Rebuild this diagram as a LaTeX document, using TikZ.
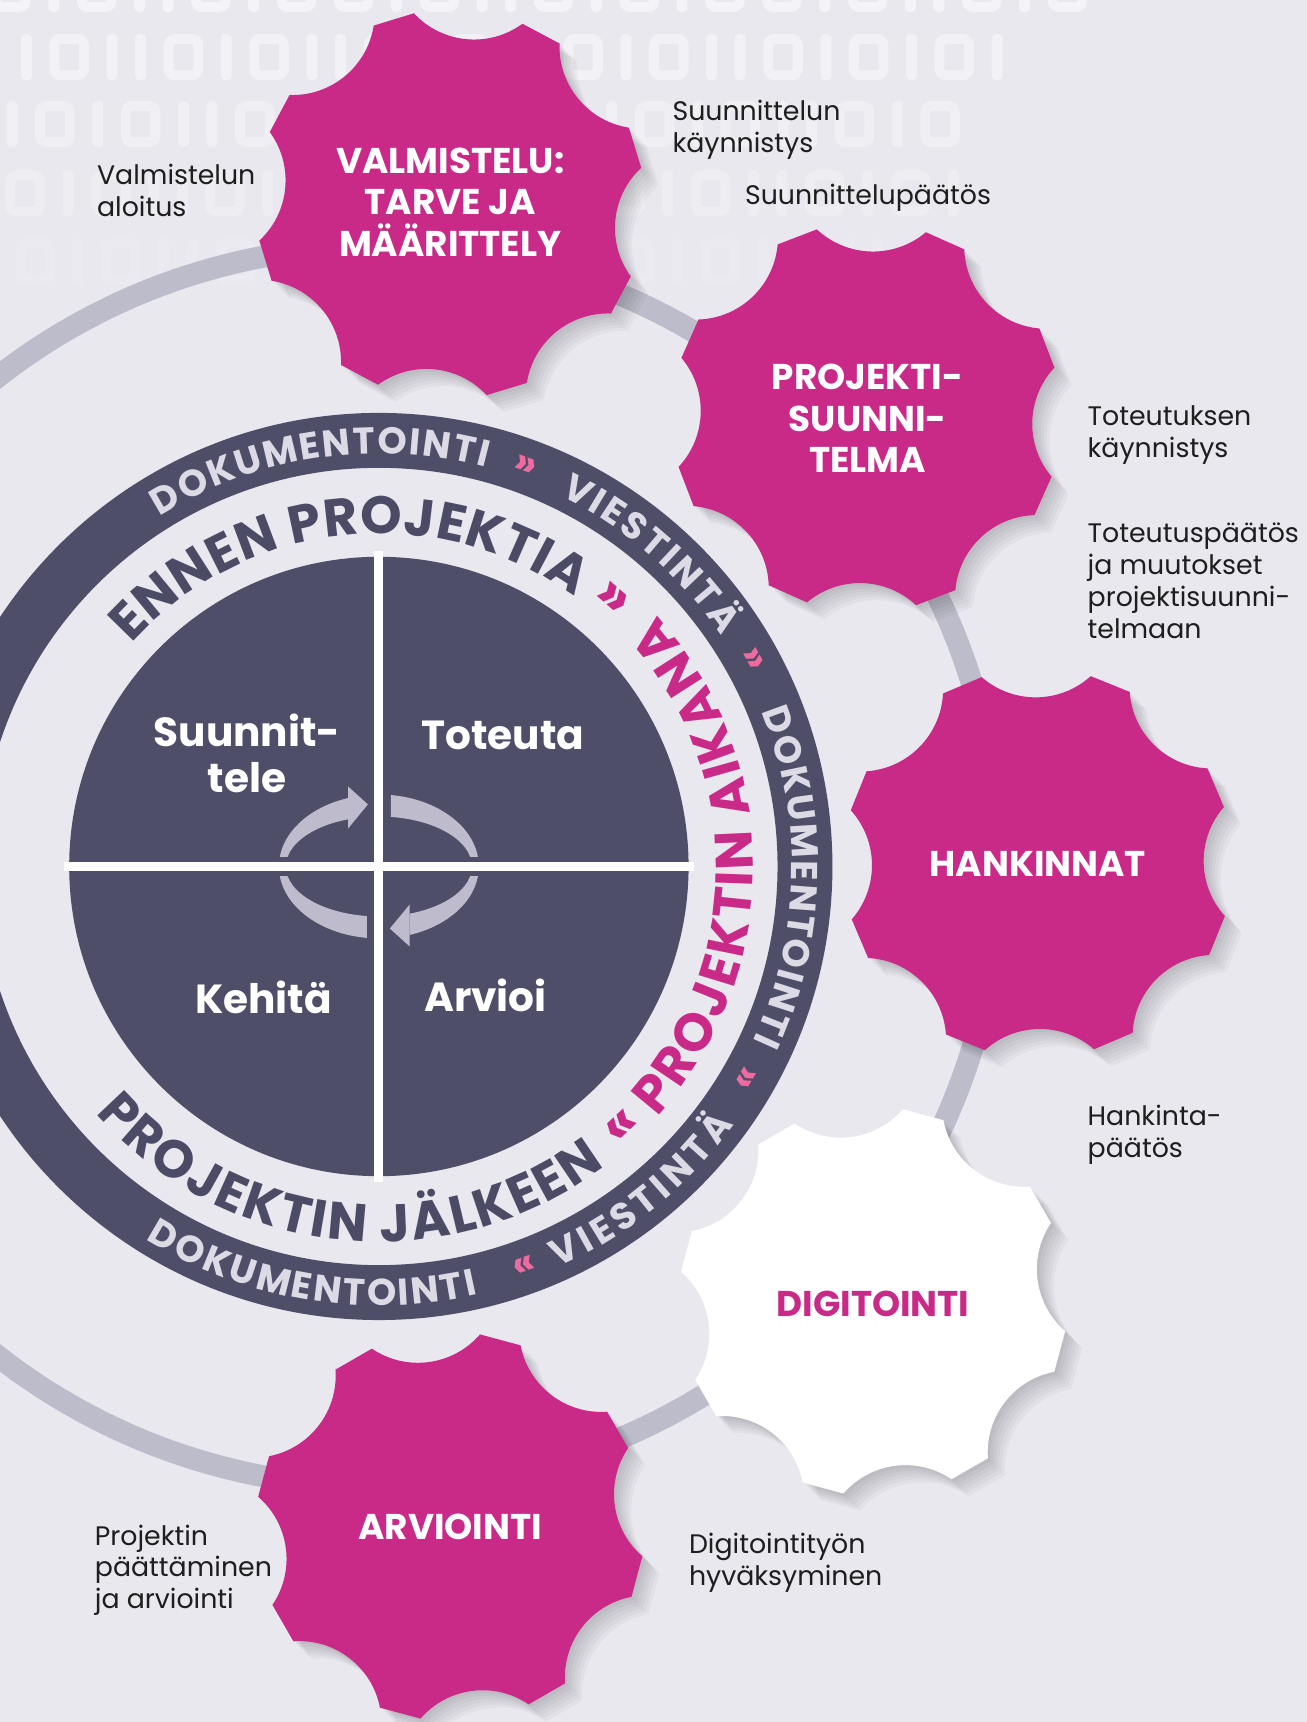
\documentclass[tikz,border=0pt]{standalone}
\usepackage{fontspec}
\setmainfont{Poppins}
\usetikzlibrary{decorations.text}

\definecolor{paper}{HTML}{E9E8EF}
\definecolor{slate}{HTML}{4F4E68}
\definecolor{slatetext}{HTML}{4C4B66}
\definecolor{gearpink}{HTML}{C92A87}
\definecolor{chevpink}{HTML}{EE6BA0}
\definecolor{trackgray}{HTML}{BDBCCB}
\definecolor{arrowgray}{HTML}{BEBCCC}
\definecolor{ringtext}{HTML}{DCDBE5}
\definecolor{notetext}{HTML}{1E1E1E}

\newcommand\ringfmt{\fontsize{17}{17}\selectfont\bfseries\color{ringtext}}
\newcommand\bandfmt{\fontsize{24}{24}\selectfont\bfseries\color{slatetext}}
\newcommand\pinkfmt{\fontsize{24}{24}\selectfont\bfseries\color{gearpink}}

\newcommand\bitsa{0,1,0,1,1,0,1,0,0,1,0,1,1,0,1,0,1,0,0,1,0,1,1,0,1,0}
\newcommand\bitsb{1,0,1,1,0,1,0,1,1,0,1,0,1,1,0,1,0,1,1,0,1,0,1,0,1}
\newcommand\bitsc{1,1,0,1,0,1,1,0,1,0,1,1,0,1,0,1,1,0,1,0,1,1,0,1,0}
\newcommand\bitsd{0,1,0,1,1,0,1,0,1,1,0,1,0,1,1,0,1,0,1,1,0,1,0,1}
\newcommand\bitse{1,0,1,0,1,1,0,1,0,1,1,0,1,0,1,1,0,1,0,1,0,1,1}

\newcommand\gearoutline[1]{({#1-6.2}:177)
  \foreach \k in {0,...,7}{ -- ({#1+45*\k+6.2}:177)
    arc[start angle={#1+45*\k+244.1}, end angle={#1+45*\k+160.9}, radius=74.8]} -- cycle}

\newcommand\drawgear[3]{%
  \foreach \s in {1,...,6}
    \fill[black, opacity=0.03, shift={(#1)}, xshift=\s*1.3pt, yshift=-\s*1.3pt] \gearoutline{#2};
  \fill[#3, shift={(#1)}] \gearoutline{#2};}

\begin{document}
\begin{tikzpicture}[x=0.5pt, y=0.5pt,
    note/.style={anchor=north west, inner sep=0pt, align=left, text=notetext,
      font=\fontsize{12.2}{14.5}\selectfont},
    geartext/.style={align=center, inner sep=0pt, text=white,
      font=\fontsize{16.3}{19}\selectfont\bfseries},
    quadtext/.style={align=center, inner sep=0pt, text=white,
      font=\fontsize{18.5}{21}\selectfont\bfseries},
    ringchev/.style={inner sep=0pt, text=chevpink, font=\fontsize{18}{18}\selectfont\bfseries},
    bandchev/.style={inner sep=0pt, text=gearpink, font=\fontsize{26}{26}\selectfont\bfseries},
    cyclearrow/.style={fill=arrowgray},
    ringlabel/.style={decorate, decoration={text along path, text align=fit to path,
      text={|\ringfmt|#1}}},
    bandlabel/.style={decorate, decoration={text along path, text align=fit to path,
      text={|\bandfmt|#1}}},
    pinklabel/.style={decorate, decoration={text along path, text align=fit to path,
      text={|\pinkfmt|#1}}}]

  \useasboundingbox (0,0) rectangle (1190,1568);
  \clip (0,0) rectangle (1190,1568);
  \fill[paper] (0,0) rectangle (1190,1568);

  % ones and zeros along the top
  \foreach \ry/\op/\sx/\bits in {1578/0.5/-8/\bitsa, 1516/0.45/19/\bitsb,
      1455/0.35/-20/\bitsc, 1392/0.22/5/\bitsd, 1330/0.12/-12/\bitse}{
    \xdef\bx{\sx}
    \edef\rowbits{\bits}
    \foreach \d in \rowbits {
      \ifnum\d=1
        \fill[white, opacity=\op, rounded corners=2pt] (\bx,\ry-21) rectangle +(10,42);
        \pgfmathsetmacro\nx{\bx+26}
      \else
        \draw[white, opacity=\op, line width=4.5pt, rounded corners=3pt]
          (\bx+4.5,\ry-16.5) rectangle +(27,33);
        \pgfmathsetmacro\nx{\bx+52}
      \fi
      \xdef\bx{\nx}
    }
  }

  \coordinate (c) at (345,779);
  \coordinate (g1) at (410,1382);
  \coordinate (g2) at (789,1188);
  \coordinate (g3) at (945,782);
  \coordinate (g4) at (795,383);
  \coordinate (g5) at (410,178);

  \draw[trackgray, line width=10pt] (c) circle[radius=565];

  \drawgear{g1}{17}{gearpink}
  \drawgear{g2}{21}{gearpink}
  \drawgear{g3}{23}{gearpink}
  \drawgear{g4}{30}{white}
  \drawgear{g5}{30}{gearpink}

  \node[geartext] (valmistelu) at (410,1384) {VALMISTELU:\\TARVE JA\\MÄÄRITTELY};
  \node[geartext] (suunnitelma) at (790,1187) {PROJEKTI-\\SUUNNI-\\TELMA};
  \node[geartext] (hankinnat) at (945,781) {HANKINNAT};
  \node[geartext, text=gearpink] (digitointi) at (795,381) {DIGITOINTI};
  \node[geartext] (arviointi) at (410,178) {ARVIOINTI};

  \begin{scope}[shift={(c)}]
    \fill[slate, even odd rule] (0,0) circle[radius=413] (0,0) circle[radius=363];
    \fill[slate] (0,0) circle[radius=282];

    % the four arrows round the cross
    \begin{scope}
      \clip (-100,9) rectangle (-28,80);
      \fill[cyclearrow, even odd rule] (0,0) ellipse[x radius=91, y radius=65.5]
        (0,0) ellipse[x radius=84.7, y radius=45.5];
    \end{scope}
    \begin{scope}
      \clip (11,9) rectangle (100,80);
      \fill[cyclearrow, even odd rule] (0,0) ellipse[x radius=91, y radius=65.5]
        (0,0) ellipse[x radius=84.7, y radius=45.5];
    \end{scope}
    \begin{scope}
      \clip (28,-9) rectangle (100,-80);
      \fill[cyclearrow, even odd rule] (0,0) ellipse[x radius=91, y radius=65.5]
        (0,0) ellipse[x radius=84.7, y radius=45.5];
    \end{scope}
    \begin{scope}
      \clip (-11,-9) rectangle (-100,-80);
      \fill[cyclearrow, even odd rule] (0,0) ellipse[x radius=91, y radius=65.5]
        (0,0) ellipse[x radius=84.7, y radius=45.5];
    \end{scope}
    \fill[cyclearrow] (-28,72.8) -- (-10,56.5) -- (-28,34.6) -- cycle;
    \fill[cyclearrow] (28,-72.8) -- (10,-56.5) -- (28,-34.6) -- cycle;

    \draw[white, line width=4pt] (0,287) -- (0,-287) (-287,0) -- (287,0);

    \node[quadtext] (suunnittele) at (-120,103) {Suunnit-\\tele};
    \node[quadtext] (toteuta) at (113,119) {Toteuta};
    \node[quadtext] (kehita) at (-105,-119) {Kehitä};
    \node[quadtext] (arvioi) at (97,-117) {Arvioi};

    \path[ringlabel=DOKUMENTOINTI] (122:376) arc[start angle=122, end angle=75, radius=376];
    \path[ringlabel=VIESTINTÄ] (64:376) arc[start angle=64, end angle=34, radius=376];
    \path[ringlabel=DOKUMENTOINTI] (22:376) arc[start angle=22, end angle=-25, radius=376];
    \path[ringlabel=VIESTINTÄ] (-66:400) arc[start angle=-66, end angle=-36, radius=400];
    \path[ringlabel=DOKUMENTOINTI] (-122:400) arc[start angle=-122, end angle=-77, radius=400];

    \path[bandlabel=ENNEN PROJEKTIA] (138:303) arc[start angle=138, end angle=54, radius=303];
    \path[pinklabel=PROJEKTIN AIKANA] (-42:341) arc[start angle=-42, end angle=42, radius=341];
    \path[bandlabel=PROJEKTIN JÄLKEEN] (-139:342) arc[start angle=-139, end angle=-53, radius=342];

    \node[ringchev, rotate=-20] (chev1) at (70:388) {»};
    \node[ringchev, rotate=-61] (chev2) at (29:388) {»};
    \node[ringchev, rotate=60] (chev3) at (-30:388) {«};
    \node[ringchev, rotate=20] (chev4) at (-70:388) {«};
    \node[bandchev, rotate=-41] (chev5) at (49:322) {»};
    \node[bandchev, rotate=43] (chev6) at (-47:326) {«};
  \end{scope}

  \node[note] (aloitus) at (88,1419) {Valmistelun\\aloitus};
  \node[note] (kaynnistys) at (612,1477) {Suunnittelun\\käynnistys};
  \node[note] (suunnittelupaatos) at (678,1401) {Suunnittelupäätös};
  \node[note] (toteutus) at (990,1199) {Toteutuksen\\käynnistys};
  \node[note] (toteutuspaatos) at (990,1092) {Toteutuspäätös\\ja muutokset\\projektisuunni-\\telmaan};
  \node[note] (hankintapaatos) at (990,562) {Hankinta-\\päätös};
  \node[note] (hyvaksyminen) at (627,172) {Digitointityön\\hyväksyminen};
  \node[note] (paattaminen) at (86,180) {Projektin\\päättäminen\\ja arviointi};
\end{tikzpicture}
\end{document}
